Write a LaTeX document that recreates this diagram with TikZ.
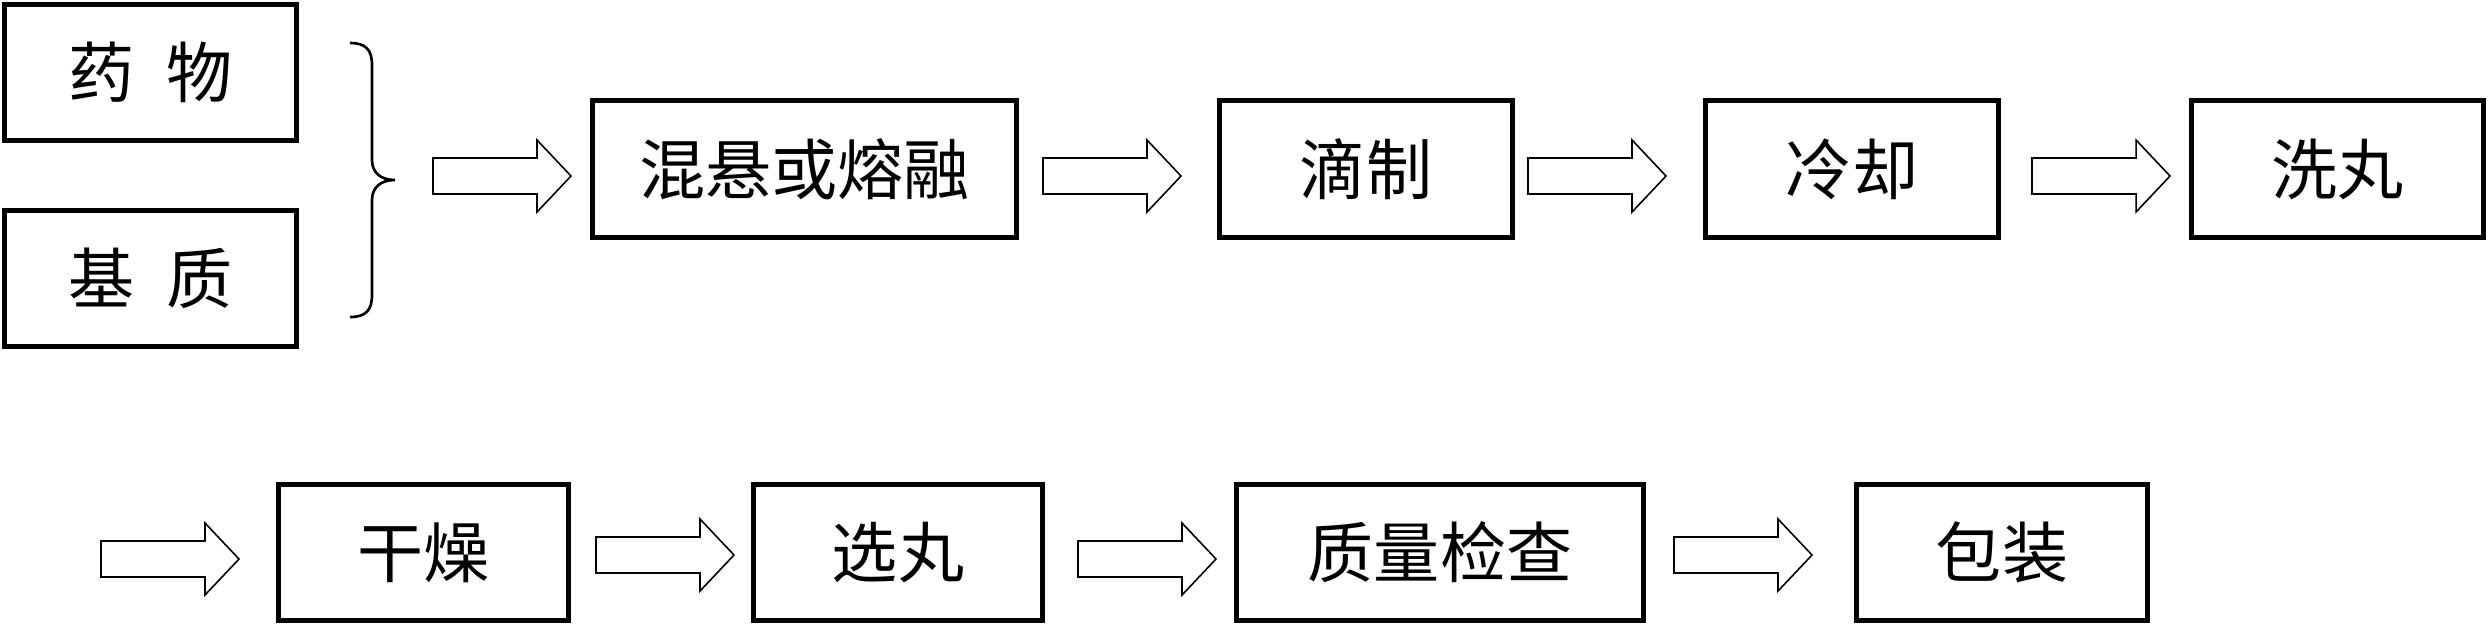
\documentclass[tikz,border=0pt]{standalone}
\usepackage{fontspec}
\newfontfamily\cjk{Noto Sans CJK SC}
\begin{document}
\begin{tikzpicture}[x=0.01cm,y=-0.01cm,
  box/.style={draw,line width=0.05cm,inner sep=0pt,minimum height=1.36cm,
    font=\cjk\fontsize{18.8pt}{20pt}\selectfont},
  arrowline/.style={draw,line width=0.45pt,line join=miter},
  bracestyle/.style={draw,line width=0.75pt},
  barrow/.pic={\draw[arrowline] (0,-18) -- (104,-18) -- (104,-36) -- (138,0) -- (104,36) -- (104,18) -- (0,18) -- cycle;}]
\useasboundingbox (0,0) rectangle (2489,626);
% row 1
\node[box,minimum width=2.92cm] (yao) at (150.5,72.5) {药\hspace{0.48em}物};
\node[box,minimum width=2.92cm] (ji) at (150.5,278.5) {基\hspace{0.48em}质};
\node[box,minimum width=4.24cm,minimum height=1.37cm] (mix) at (804.5,169) {混悬或熔融};
\node[box,minimum width=2.93cm,minimum height=1.37cm] (drip) at (1366,169) {滴制};
\node[box,minimum width=2.93cm,minimum height=1.37cm] (cool) at (1852,169) {冷却};
\node[box,minimum width=2.92cm,minimum height=1.37cm] (wash) at (2337.5,169) {洗丸};
% row 2
\node[box,minimum width=2.90cm] (dry) at (423.5,552.5) {干燥};
\node[box,minimum width=2.89cm] (pick) at (898,552.5) {选丸};
\node[box,minimum width=4.07cm] (qc) at (1440,552.5) {质量检查};
\node[box,minimum width=2.91cm] (pack) at (2002,552.5) {包装};
% brace
\draw[bracestyle] (350,43) .. controls (366,43) and (372,50) .. (372,65) -- (372,160)
  .. controls (372,172) and (380,180) .. (395,180)
  .. controls (380,180) and (372,188) .. (372,200) -- (372,295)
  .. controls (372,310) and (366,317) .. (350,317);
% block arrows
\pic (a1) at (433,176) {barrow};
\pic (a2) at (1043,176) {barrow};
\pic (a3) at (1528,176) {barrow};
\pic (a4) at (2032,176) {barrow};
\pic (b0) at (101,559) {barrow};
\pic (b1) at (596,555) {barrow};
\pic (b2) at (1078,559) {barrow};
\pic (b3) at (1674,555) {barrow};
\end{tikzpicture}
\end{document}
